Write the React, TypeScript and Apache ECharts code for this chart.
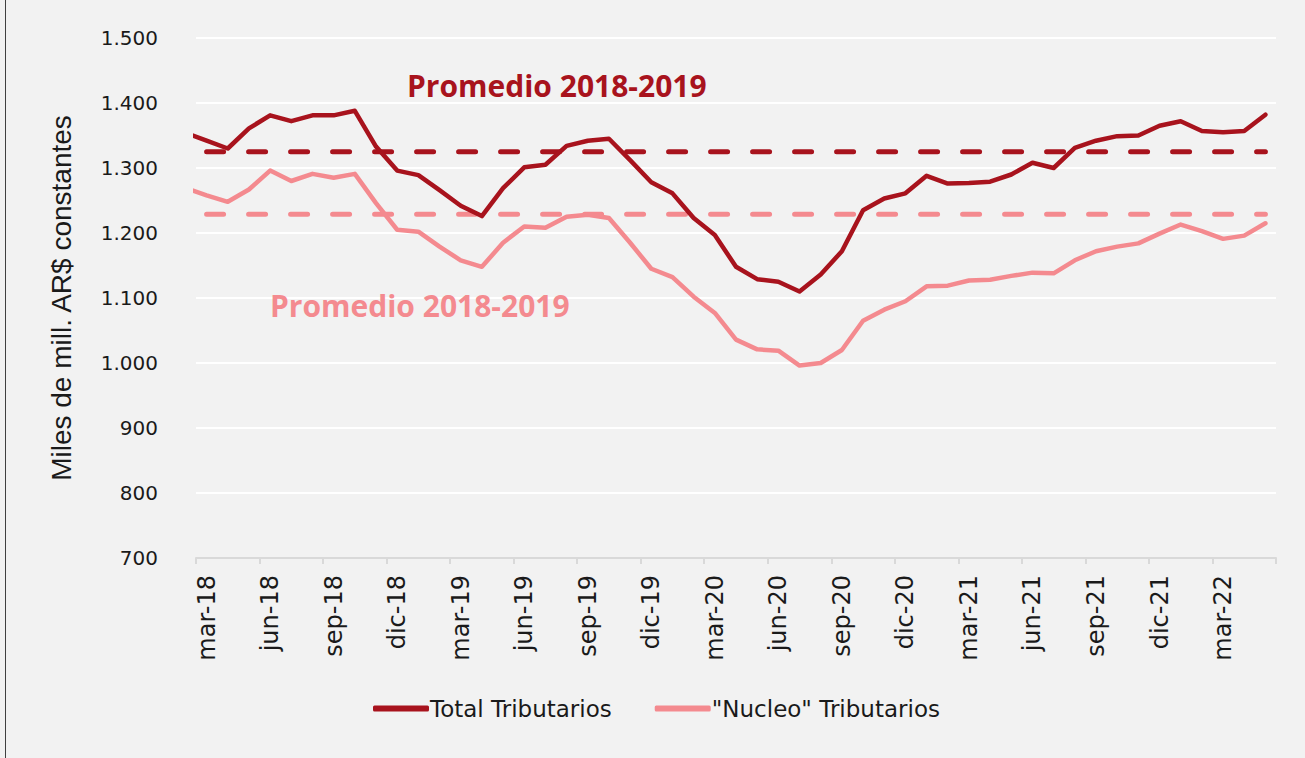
import React, { useEffect, useRef } from "react";
import * as echarts from "echarts";

const monthLabels = [
  "mar-18", "abr-18", "may-18", "jun-18", "jul-18", "ago-18", "sep-18", "oct-18", "nov-18", "dic-18",
  "ene-19", "feb-19", "mar-19", "abr-19", "may-19", "jun-19", "jul-19", "ago-19", "sep-19", "oct-19", "nov-19", "dic-19",
  "ene-20", "feb-20", "mar-20", "abr-20", "may-20", "jun-20", "jul-20", "ago-20", "sep-20", "oct-20", "nov-20", "dic-20",
  "ene-21", "feb-21", "mar-21", "abr-21", "may-21", "jun-21", "jul-21", "ago-21", "sep-21", "oct-21", "nov-21", "dic-21",
  "ene-22", "feb-22", "mar-22", "abr-22", "may-22",
];

// value of the month before the first label (feb-18), only partly visible at the left edge
const totalFeb18 = 1354;
const nucleoFeb18 = 1269;

const totalTributarios = [
  1342, 1330, 1361, 1381, 1372, 1381, 1381, 1388, 1333, 1296,
  1289, 1266, 1242, 1226, 1269, 1301, 1305, 1334, 1342, 1345, 1312, 1278,
  1261, 1223, 1197, 1148, 1129, 1125, 1110, 1136, 1172, 1235, 1253, 1261,
  1288, 1276, 1277, 1279, 1290, 1308, 1300, 1331, 1342, 1349, 1350, 1365,
  1372, 1357, 1355, 1357, 1382,
];

const nucleoTributarios = [
  1258, 1248, 1267, 1296, 1280, 1291, 1285, 1291, 1246, 1205,
  1202, 1179, 1158, 1148, 1185, 1210, 1208, 1225, 1228, 1223, 1185, 1145,
  1132, 1102, 1077, 1036, 1021, 1019, 996, 1000, 1020, 1065, 1082, 1095,
  1118, 1119, 1127, 1128, 1134, 1139, 1138, 1158, 1172, 1179, 1184, 1199,
  1213, 1203, 1191, 1196, 1215,
];

const promedioTotal = 1325;
const promedioNucleo = 1229;

const DARK = "#A8131D";
const LIGHT = "#F48A8F";
const FONT = "'DejaVu Sans', 'Noto Sans', sans-serif";
const BOLD_FONT = "'Open Sans', 'Noto Sans', sans-serif";

function fmtThousands(v: number): string {
  const s = String(Math.round(v));
  return s.replace(/\B(?=(\d{3})+(?!\d))/g, ".");
}

export default function App() {
  const ref = useRef<HTMLDivElement>(null);

  useEffect(() => {
    document.body.style.margin = "0";
    if (!ref.current) return;
    const chart = echarts.init(ref.current, null, { renderer: "svg" });

    const toPairs = (arr: number[], first?: number) => {
      const pts: number[][] = arr.map((v, i) => [i, v]);
      if (first !== undefined) pts.unshift([-1, first]);
      return pts;
    };
    const constLine = (v: number) => monthLabels.map((_, i) => [i, v]);

    chart.setOption({
      animation: false,
      backgroundColor: "#F2F2F2",
      textStyle: { fontFamily: FONT },
      grid: { left: 196, right: 29, top: 38, bottom: 200, containLabel: false },
      legend: {
        left: 368,
        top: 692,
        itemWidth: 56,
        itemHeight: 6,
        itemGap: 43,
        icon: "roundRect",
        data: ["Total Tributarios", "\"Nucleo\" Tributarios"],
        textStyle: { fontSize: 23, color: "#1a1a1a", fontFamily: FONT, padding: [0, 0, 0, -4] },
      },
      xAxis: [
        {
          type: "value",
          min: -0.5,
          max: monthLabels.length - 0.5,
          show: false,
        },
        {
          type: "category",
          data: monthLabels,
          boundaryGap: true,
          position: "bottom",
          axisLine: { show: true, lineStyle: { color: "#D9D9D9", width: 2 } },
          axisTick: { show: true, interval: 2, length: 6, lineStyle: { color: "#D9D9D9", width: 2 } },
          axisLabel: {
            interval: 2,
            rotate: 90,
            margin: 17,
            fontSize: 24,
            color: "#1a1a1a",
            fontFamily: FONT,
          },
          splitLine: { show: false },
        },
      ],
      yAxis: {
        type: "value",
        min: 700,
        max: 1500,
        interval: 100,
        name: "Miles de mill. AR$ constantes",
        nameLocation: "middle",
        nameGap: 121,
        nameTextStyle: { fontSize: 28, color: "#1a1a1a", fontFamily: "'Liberation Sans', Arial, sans-serif" },
        axisLine: { show: false },
        axisTick: { show: false },
        axisLabel: {
          margin: 38,
          fontSize: 20,
          color: "#1a1a1a",
          fontFamily: FONT,
          formatter: (v: number) => fmtThousands(v),
        },
        splitLine: { show: true, lineStyle: { color: "#FFFFFF", width: 2 } },
      },
      series: [
        {
          name: "Total Tributarios",
          type: "line",
          xAxisIndex: 0,
          data: toPairs(totalTributarios, totalFeb18),
          showSymbol: false,
          symbol: "none",
          clip: true,
          lineStyle: { color: DARK, width: 4.5, cap: "round", join: "round" },
          itemStyle: { color: DARK },
          z: 3,
        },
        {
          name: "\"Nucleo\" Tributarios",
          type: "line",
          xAxisIndex: 0,
          data: toPairs(nucleoTributarios, nucleoFeb18),
          showSymbol: false,
          symbol: "none",
          clip: true,
          lineStyle: { color: LIGHT, width: 4.5, cap: "round", join: "round" },
          itemStyle: { color: LIGHT },
          z: 3,
        },
        {
          name: "Promedio Total",
          type: "line",
          xAxisIndex: 0,
          data: constLine(promedioTotal),
          showSymbol: false,
          symbol: "none",
          lineStyle: { color: DARK, width: 5, type: [17, 25], cap: "round" },
          z: 2,
        },
        {
          name: "Promedio Nucleo",
          type: "line",
          xAxisIndex: 0,
          data: constLine(promedioNucleo),
          showSymbol: false,
          symbol: "none",
          lineStyle: { color: LIGHT, width: 5, type: [17, 25], cap: "round" },
          z: 2,
        },
      ],
      graphic: [
        {
          type: "text",
          left: 407,
          top: 70,
          style: {
            text: "Promedio 2018-2019",
            fill: DARK,
            font: `bold 30px ${BOLD_FONT}`,
          },
          z: 10,
        },
        {
          type: "text",
          left: 270,
          top: 290,
          style: {
            text: "Promedio 2018-2019",
            fill: LIGHT,
            font: `bold 30px ${BOLD_FONT}`,
          },
          z: 10,
        },
      ],
    });

    return () => chart.dispose();
  }, []);

  return (
    <div style={{ position: "fixed", left: 0, top: 0, width: 1305, height: 758, background: "#F2F2F2" }}>
      <div
        ref={ref}
        style={{ position: "absolute", left: 0, top: 0, width: 1305, height: 758 }}
      />
      <div style={{ position: "absolute", left: 5, top: 0, width: 1, height: 758, background: "#404040" }} />
    </div>
  );
}
